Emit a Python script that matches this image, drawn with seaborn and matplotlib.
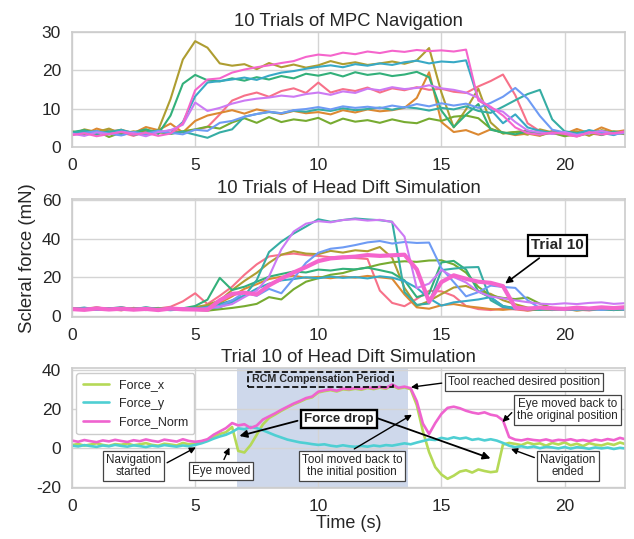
import numpy as np
import pandas as pd
import matplotlib
matplotlib.use("Agg")
import matplotlib.pyplot as plt
from matplotlib.patches import Rectangle
import seaborn as sns

# ---------------- data ----------------
trial_names = [f"Trial {i}" for i in range(1, 11)]

# Panel 1: 10 trials of MPC navigation (sampled every 0.5 s, 0 .. 22.5 s)
mpc_trials = [
    [3.5,4.2,3.1,4.6,3.8,2.9,4.1,3.6,4.4,3.9, 4.5,5.2,8.5,12.1,13.4,14.2,13.1,14.6,15.3,14.1,
     16.8,14.2,15.1,14.6,15.5,14.2,15.3,14.8,15.6,14.9, 15.2,14.4,14.1,15.8,17.2,18.9,13.5,6.2,4.1,3.5,
     3.2,2.8,3.6,3.1,3.9,3.4],
    [4.1,3.3,4.8,3.9,4.5,3.6,5.2,4.4,6.1,3.8, 6.8,8.2,8.9,9.6,8.7,9.8,9.2,8.6,9.4,8.8,
     9.1,8.5,9.6,9.0,9.8,9.3,9.6,10.2,12.8,19.5, 6.5,3.9,4.4,3.2,4.6,3.8,3.1,3.5,2.9,4.2,
     3.4,4.7,3.6,5.1,3.9,4.4],
    [3.2,4.6,3.9,4.8,3.4,4.1,3.6,4.4,12.5,22.8, 27.6,25.9,21.8,21.2,21.6,20.3,21.9,20.8,21.5,20.7,
     21.3,22.4,21.6,22.1,21.4,21.8,22.3,21.7,22.6,25.8, 14.2,5.1,9.8,15.2,6.4,3.5,3.9,3.2,4.6,3.8,
     3.5,4.1,2.9,4.4,3.7,3.3],
    [3.6,3.1,4.2,2.6,3.8,3.3,4.5,3.9,3.4,4.1, 4.6,5.3,4.8,6.4,7.5,6.3,7.8,6.5,7.2,6.8,
     7.6,6.1,7.4,6.6,7.0,6.3,7.2,6.5,6.2,7.4, 6.8,7.9,8.2,7.5,4.8,3.6,3.9,4.3,3.1,3.7,
     2.8,3.4,3.9,3.2,4.1,3.6],
    [3.9,4.4,3.5,4.1,3.2,3.8,4.6,3.4,8.2,16.5, 18.8,17.4,17.1,17.9,17.3,18.2,17.6,18.5,17.9,19.1,
     18.6,19.3,18.4,19.5,18.8,19.2,18.5,18.9,19.6,18.2, 9.5,5.2,8.4,11.2,4.5,3.8,3.3,4.1,3.6,3.9,
     3.4,2.9,3.7,4.2,3.5,3.9],
    [3.7,4.2,3.4,3.9,4.5,3.1,3.8,4.3,3.5,4.0, 3.2,2.4,3.8,4.6,7.9,8.6,9.1,8.8,9.5,9.2,
     9.8,9.4,10.1,9.6,9.9,10.3,9.7,10.4,10.1,9.5, 10.2,9.8,10.6,9.4,8.9,10.5,12.2,13.8,14.9,7.2,
     4.1,3.6,4.3,3.2,3.9,3.5],
    [3.4,3.8,4.1,3.3,4.4,3.7,3.2,4.0,3.6,6.5, 13.2,16.8,17.2,17.6,18.1,17.5,18.6,19.4,19.8,20.4,
     20.9,21.3,20.8,21.6,21.2,21.8,21.4,22.1,22.5,21.8, 22.3,22.1,22.6,12.4,9.8,6.2,8.5,5.1,4.2,3.6,
     3.9,3.3,4.4,3.7,3.1,4.2],
    [3.2,3.6,4.1,3.5,3.0,3.9,3.4,4.2,3.7,3.3, 4.5,4.2,6.3,6.8,7.9,8.6,9.2,8.8,9.6,9.9,
     10.4,9.8,10.6,10.2,10.5,10.1,10.8,10.3,11.2,10.6, 11.4,10.8,11.3,10.2,11.5,13.1,15.4,12.6,8.1,4.5,
     3.8,3.2,3.6,3.9,3.3,3.7],
    [3.5,2.9,3.8,3.3,4.0,3.6,2.8,3.9,4.4,5.8, 11.6,9.4,10.2,11.3,12.1,12.6,12.9,13.4,13.1,13.8,
     14.2,13.6,14.5,14.1,15.2,14.8,15.6,15.1,15.4,16.1, 15.3,14.9,14.2,12.8,10.1,9.2,6.5,4.3,3.8,3.4,
     3.9,3.1,3.6,4.2,3.5,3.8],
    [3.1,3.6,2.8,3.4,3.9,3.2,3.7,2.9,3.5,6.2, 14.8,17.6,17.9,19.4,20.2,20.8,21.3,21.9,22.4,23.5,
     24.1,23.8,24.6,24.2,24.9,24.5,25.1,24.8,25.3,25.0, 25.2,24.9,25.4,12.1,10.5,8.2,5.1,3.6,3.2,3.8,
     3.4,2.7,3.9,3.3,3.6,4.1],
]

# Panel 2: 10 trials of head drift simulation (sampled every 0.5 s)
drift_trials = [
    [4.1,3.2,4.5,3.6,2.9,4.2,3.5,3.9,4.8,7.6, 11.8,6.2,10.5,15.2,21.4,26.8,30.9,31.8,32.4,31.6,
     31.2,30.5,30.8,30.1,29.6,13.2,6.8,5.1,8.9,13.1, 12.8,10.4,5.2,3.6,3.1,3.9,3.4,2.8,3.6,3.2,
     3.9,3.3,2.9,3.7,3.4,3.1],
    [3.5,4.1,3.8,3.2,4.4,3.7,3.1,4.0,3.6,3.9, 4.2,5.1,6.8,10.2,14.1,16.5,19.2,20.4,20.9,19.8,
     20.3,19.6,20.5,19.9,20.8,20.1,19.4,11.2,4.5,3.8, 5.6,6.2,5.1,4.4,3.6,3.2,3.8,2.9,3.5,3.1,
     3.7,2.9,3.4,3.8,3.2,3.6],
    [3.3,3.9,4.4,3.6,3.1,4.2,3.7,3.3,4.1,3.5, 4.6,5.8,8.1,13.5,18.2,22.4,27.6,31.8,33.6,32.4,
     32.1,33.8,32.9,34.1,33.6,35.8,30.2,14.6,5.2,7.8, 11.4,14.8,15.6,12.8,11.5,8.2,6.1,4.4,3.8,3.3,
     3.6,2.9,3.5,4.0,3.2,3.7],
    [3.8,3.3,4.0,3.5,4.3,3.1,3.6,4.2,3.4,3.9, 3.2,2.8,3.5,4.2,5.1,6.3,9.8,8.6,13.9,17.8,
     19.6,21.4,22.3,24.1,25.2,26.8,27.9,28.4,28.1,28.8, 28.9,26.8,22.5,15.1,10.6,9.4,8.8,9.6,6.4,4.2,
     3.8,3.3,3.9,3.5,3.1,3.6],
    [4.2,3.6,3.3,4.1,3.8,3.4,4.5,3.7,3.2,4.0, 5.2,8.5,19.8,13.5,15.2,17.8,20.4,21.8,23.1,22.6,
     24.1,23.6,24.5,24.2,25.1,23.8,22.4,18.5,9.8,11.6, 27.8,28.6,24.1,12.8,9.5,5.2,4.1,3.6,3.2,3.9,
     3.4,3.8,3.1,3.6,4.2,3.5],
    [3.6,4.4,3.2,3.9,4.6,3.4,3.9,3.1,4.3,3.7, 3.9,4.8,6.2,8.1,10.5,18.6,33.2,38.6,42.8,46.4,
     50.2,48.9,49.8,50.6,50.1,49.7,48.9,12.4,5.8,6.5, 23.8,24.6,25.2,25.4,8.2,4.6,4.1,3.5,3.8,3.2,
     3.7,3.3,4.0,3.6,3.1,3.8],
    [3.9,3.4,4.1,3.7,3.2,3.8,4.4,3.5,3.0,3.6, 4.1,3.8,4.5,7.2,10.6,14.2,16.8,18.5,19.2,20.1,
     19.6,20.4,19.8,20.2,19.5,20.6,19.9,18.1,14.6,9.2, 5.4,7.1,7.8,8.6,9.8,5.1,3.6,4.0,3.4,3.8,
     3.1,3.6,4.1,3.3,3.7,3.2],
    [3.4,3.9,3.2,3.7,4.2,3.6,3.1,3.8,3.5,4.1, 3.3,4.4,5.2,8.1,12.2,10.5,14.1,11.8,19.5,27.6,
     32.8,34.9,35.6,36.8,38.2,38.9,37.6,38.4,37.9,38.1, 24.8,17.6,10.2,12.4,15.8,15.1,14.6,8.2,4.1,3.6,
     3.9,3.3,3.7,3.2,3.8,3.4],
    [3.2,3.7,4.3,3.5,3.9,3.3,3.8,3.1,3.6,4.0, 3.5,3.9,4.8,6.2,9.8,13.2,20.5,34.6,43.8,47.9,
     49.2,48.6,49.8,50.2,49.5,49.9,48.8,41.2,14.5,16.8, 23.9,20.2,17.4,12.6,10.1,9.2,8.1,7.2,6.4,6.1,
     6.6,6.2,6.8,7.1,6.3,6.7],
    [3.6,3.2,3.9,3.4,3.8,3.3,3.7,3.1,3.9,3.5, 3.4,3.2,8.2,11.5,12.1,11.2,15.9,19.4,22.6,25.4,
     28.5,29.9,30.4,30.8,31.6,31.2,31.5,31.8,24.2,7.4, 17.6,21.1,19.3,17.8,17.2,15.5,4.3,3.8,4.4,4.0,
     3.7,4.3,3.9,4.5,4.1,4.6],
]

# Panel 3: trial 10 force components (sampled every 0.25 s)
force_x = [1.5,2.1,1.2,1.8,2.4,1.6,1.1,2.0,1.7,2.3, 1.4,1.9,2.5,1.6,1.2,2.2,1.8,1.3,2.6,1.9,
           2.3,3.2,4.1,5.8,7.2,8.1,10.8,-1.5,-2.3,1.5, 6.8,12.1,15.4,17.2,19.1,20.8,22.4,23.7,25.2,26.0,
           28.5,29.2,29.7,29.0,30.1,29.8,30.4,29.9,30.8,30.2, 31.0,30.4,32.1,30.5,31.1,30.2,22.0,8.5,-2.1,-9.8,
           -13.6,-15.8,-14.2,-12.1,-11.4,-12.6,-11.0,-11.8,-12.4,-12.0, 1.8,2.6,2.1,1.5,2.8,1.9,2.4,1.2,2.6,1.8,
           2.9,1.4,2.2,1.0,2.5,1.7,1.3,2.3,1.6,2.8,1.9]
force_y = [1.2,0.8,1.5,1.0,0.6,1.3,0.9,1.6,1.1,0.7, 1.4,1.0,0.5,1.2,0.8,1.5,1.1,0.7,1.3,0.9,
           1.6,2.4,3.5,4.8,5.9,6.8,8.2,10.1,9.6,10.8, 10.2,9.1,7.8,6.5,5.4,4.3,3.6,2.9,2.5,2.0,
           1.6,1.9,1.2,0.8,1.4,0.9,0.6,1.1,0.7,1.3, 0.9,1.5,1.2,1.8,2.4,1.9,2.8,3.6,4.4,4.1,
           5.2,4.6,5.5,4.8,5.3,4.2,4.7,3.9,4.5,3.8, 2.6,1.2,0.4,0.9,0.2,0.8,-0.1,0.6,0.3,-0.2,
           0.5,-0.3,0.4,0.1,-0.4,0.3,-0.2,0.2,-0.5,0.1,-0.3]
force_norm = [3.8,3.2,4.1,3.5,3.0,3.9,3.4,4.2,3.6,3.1, 4.0,3.5,4.4,3.7,3.2,4.3,3.8,3.3,4.5,3.6,
              3.2,3.6,4.5,6.8,8.5,10.2,12.8,11.6,12.2,10.3, 11.5,14.6,16.2,17.8,19.6,21.2,22.8,24.1,25.6,26.4,
              28.9,29.6,30.1,29.4,30.5,30.2,30.8,30.3,31.2,30.6, 31.4,30.8,32.6,30.9,31.5,30.7,24.0,12.5,7.2,12.8,
              17.5,20.6,21.2,20.4,19.1,18.2,17.6,18.3,17.1,16.5, 14.2,5.6,4.3,3.9,4.6,4.1,3.8,4.4,3.6,4.2,
              3.9,4.5,3.7,4.1,3.5,4.3,3.8,4.6,4.0,5.2,4.4]
component_names = ["Force_x", "Force_y", "Force_Norm"]

# ---------------- frames ----------------
def trials_frame(trials):
    rows = []
    for name, vals in zip(trial_names, trials):
        t = np.arange(len(vals)) * 0.5
        rows.append(pd.DataFrame({"time": t, "force": vals, "trial": name}))
    return pd.concat(rows, ignore_index=True)

mpc_df = trials_frame(mpc_trials)
drift_df = trials_frame(drift_trials)
comp_df = pd.concat([
    pd.DataFrame({"time": np.arange(len(v)) * 0.25, "force": v, "component": n})
    for n, v in zip(component_names, [force_x, force_y, force_norm])
], ignore_index=True)

# ---------------- style ----------------
sns.set_theme(style="whitegrid")
plt.rcParams['font.family'] = ['Liberation Sans', 'DejaVu Sans']
plt.rcParams['axes.unicode_minus'] = False
plt.rcParams['axes.edgecolor'] = '#cccccc'
plt.rcParams['grid.color'] = '#d4d4d4'

pal = sns.color_palette("husl", 10)
comp_colors = {"Force_x": "#b5d957", "Force_y": "#4fcfd3", "Force_Norm": "#ef63cf"}

fig = plt.figure(figsize=(6.34, 5.39), dpi=100)
L, W = 0.1136, 0.872
ax1 = fig.add_axes([L, 0.7273, W, 0.2134])
ax2 = fig.add_axes([L, 0.4126, W, 0.2182])
ax3 = fig.add_axes([L, 0.0954, W, 0.2224])

TICK = 12.5
TITLE = 13.3

# panel 1
sns.lineplot(data=mpc_df, x="time", y="force", hue="trial", palette=pal,
             legend=False, ax=ax1, linewidth=1.5)
ax1.set_xlim(0, 22.45)
ax1.set_ylim(0, 30)
ax1.set_yticks([0, 10, 20, 30])
ax1.set_title("10 Trials of MPC Navigation", fontsize=TITLE, pad=4)

# panel 2
sns.lineplot(data=drift_df[drift_df.trial != "Trial 10"], x="time", y="force", hue="trial",
             palette=pal[:9], legend=False, ax=ax2, linewidth=1.5)
sns.lineplot(data=drift_df[drift_df.trial == "Trial 10"], x="time", y="force",
             color=pal[9], legend=False, ax=ax2, linewidth=3)
ax2.set_xlim(0, 22.45)
ax2.set_ylim(-0.3, 60.7)
ax2.set_yticks([0, 20, 40, 60])
ax2.set_title("10 Trials of Head Dift Simulation", fontsize=TITLE, pad=4)
ax2.annotate("Trial 10", xy=(17.5, 16.0), xytext=(19.72, 36.7), ha="center", va="center",
             fontsize=11, fontweight="bold",
             bbox=dict(boxstyle="square,pad=0.22", fc="white", ec="black", lw=1.6),
             arrowprops=dict(arrowstyle="-|>", color="black", lw=1.2, mutation_scale=10,
                             relpos=(0.3, 0.0)))

# panel 3
ax3.axvspan(6.68, 13.65, color="#9fb2d9", alpha=0.5, lw=0, zorder=0.5)
sns.lineplot(data=comp_df, x="time", y="force", hue="component", palette=comp_colors,
             ax=ax3, linewidth=1.9)
ax3.set_xlim(0, 22.45)
ax3.set_ylim(-20.3, 41.2)
ax3.set_yticks([-20, 0, 20, 40])
ax3.set_title("Trial 10 of Head Dift Simulation", fontsize=TITLE, pad=4)
leg = ax3.legend(loc="upper left", fontsize=9, frameon=True, handlelength=2.1,
                 handletextpad=0.8, borderpad=0.5, labelspacing=0.5,
                 bbox_to_anchor=(0.0, 0.99), borderaxespad=0.35)
leg.get_frame().set_edgecolor("#cccccc")
leg.get_frame().set_alpha(1)

box = dict(boxstyle="square,pad=0.25", fc="white", ec="#444444", lw=0.9)
arr = dict(arrowstyle="-|>", color="black", lw=1.0, mutation_scale=9)
AF = 8.4

ax3.add_patch(Rectangle((7.15, 31.3), 5.9, 7.7, fill=False, ec="black", lw=1.2, ls="--",
                        zorder=4))
ax3.text(10.1, 35.6, "RCM Compensation Period", ha="center", va="center",
         fontsize=7.7, fontweight="bold", zorder=5)
ax3.annotate("Tool reached desired position", xy=(13.65, 31.0), xytext=(18.35, 33.7),
             ha="center", va="center", fontsize=AF, bbox=box,
             arrowprops=dict(arr, relpos=(0.0, 0.5)))
ax3.annotate("Eye moved back to\nthe original position", xy=(17.4, 12.3), xytext=(20.12, 19.4),
             ha="center", va="center", fontsize=AF, bbox=box, linespacing=1.05,
             arrowprops=dict(arr, relpos=(0.0, 0.62)))
ax3.annotate("Force drop", xy=(6.69, 5.8), xytext=(10.85, 14.9),
             ha="center", va="center", fontsize=9.6, fontweight="bold",
             bbox=dict(boxstyle="square,pad=0.25", fc="white", ec="black", lw=1.7),
             arrowprops=dict(arrowstyle="-|>", color="black", lw=1.3, mutation_scale=11,
                             relpos=(0.0, 0.5)))
ax3.annotate("", xy=(17.1, -5.8), xytext=(12.42, 15.2),
             arrowprops=dict(arrowstyle="-|>", color="black", lw=1.3, mutation_scale=11,
                             shrinkA=0))
ax3.annotate("Navigation\nstarted", xy=(5.13, 1.0), xytext=(2.5, -9.15),
             ha="center", va="center", fontsize=AF, bbox=box, linespacing=1.05,
             arrowprops=dict(arr, relpos=(1.0, 0.5)))
ax3.annotate("Eye moved", xy=(6.44, 1.5), xytext=(6.06, -12.0),
             ha="center", va="center", fontsize=AF, bbox=box,
             arrowprops=dict(arr, relpos=(0.5, 1.0)))
ax3.annotate("Tool moved back to\nthe initial position", xy=(13.9, 17.8), xytext=(11.38, -9.2),
             ha="center", va="center", fontsize=AF, bbox=box, linespacing=1.05,
             arrowprops=dict(arr, relpos=(0.44, 1.0)))
ax3.annotate("Navigation\nended", xy=(17.72, 0.0), xytext=(20.14, -9.15),
             ha="center", va="center", fontsize=AF, bbox=box, linespacing=1.05,
             arrowprops=dict(arr, relpos=(0.0, 0.75)))

for ax in (ax1, ax2, ax3):
    ax.set_xticks([0, 5, 10, 15, 20])
    ax.tick_params(labelsize=TICK, pad=2)
    ax.set_xlabel("")
    ax.set_ylabel("")
    for s in ax.spines.values():
        s.set_color("#cccccc")
        s.set_linewidth(1.2)

ax2.set_ylabel("Scleral force (mN)", fontsize=13.4, labelpad=4)
ax3.set_xlabel("Time (s)", fontsize=13, labelpad=1)

fig.savefig("out.png", dpi=100)
